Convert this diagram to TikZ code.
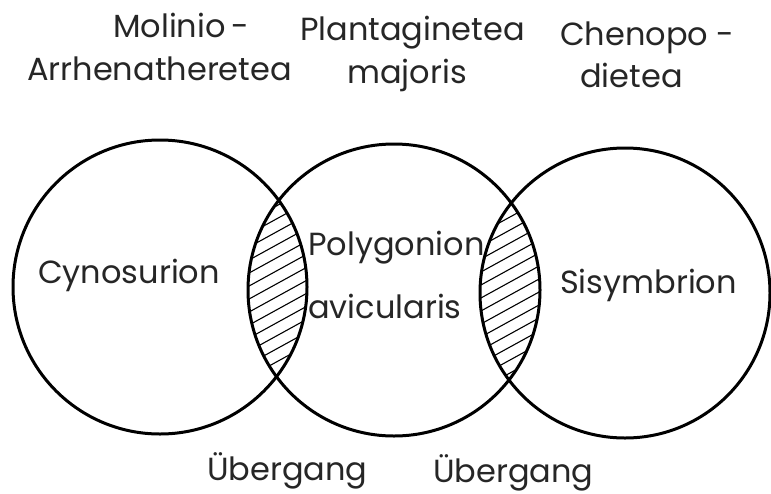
\documentclass[tikz,border=0pt]{standalone}
\usepackage{fontspec}
\setmainfont{Poppins}
\begin{document}
\begin{tikzpicture}[x=1pt,y=-1pt,
  ring/.style={line width=3pt},
  hatch/.style={line width=1.1pt},
  lbl/.style={anchor=base west,inner sep=0pt,font=\fontsize{32}{38}\selectfont,text=black!85}]
\useasboundingbox[fill=white] (0,0) rectangle (771,493);
% hatched lenses
\begin{scope}
  \clip (160,287) circle (147pt);
  \clip (394,290) circle (146pt);
  \foreach \k in {0,...,32} \draw[hatch] (200,170+\k*13) -- ++(160,-88);
\end{scope}
\begin{scope}
  \clip (394,290) circle (146pt);
  \clip (625,293) circle (145pt);
  \foreach \k in {0,...,32} \draw[hatch] (430,170+\k*13) -- ++(160,-88);
\end{scope}
% circles
\draw[ring] (160,287) circle (147pt);
\draw[ring] (394,290) circle (146pt);
\draw[ring] (625,293) circle (145pt);
% labels
\node[lbl] (mol) at (113,37) {Molinio\,-};
\node[lbl] (arr) at (27,80) {Arrhenatheretea};
\node[lbl] (pla) at (300,40) {Plantaginetea};
\node[lbl] (maj) at (347,83) {majoris};
\node[lbl] (che) at (560,45) {Chenopo -};
\node[lbl] (die) at (580,87) {dietea};
\node[lbl] (cyn) at (38,283) {Cynosurion};
\node[lbl] (pol) at (308,255) {Polygonion};
\node[lbl] (avi) at (308,318) {avicularis};
\node[lbl] (sis) at (560,293) {Sisymbrion};
\node[lbl] (ueb1) at (207,480) {Übergang};
\node[lbl] (ueb2) at (433,482) {Übergang};
\end{tikzpicture}
\end{document}
